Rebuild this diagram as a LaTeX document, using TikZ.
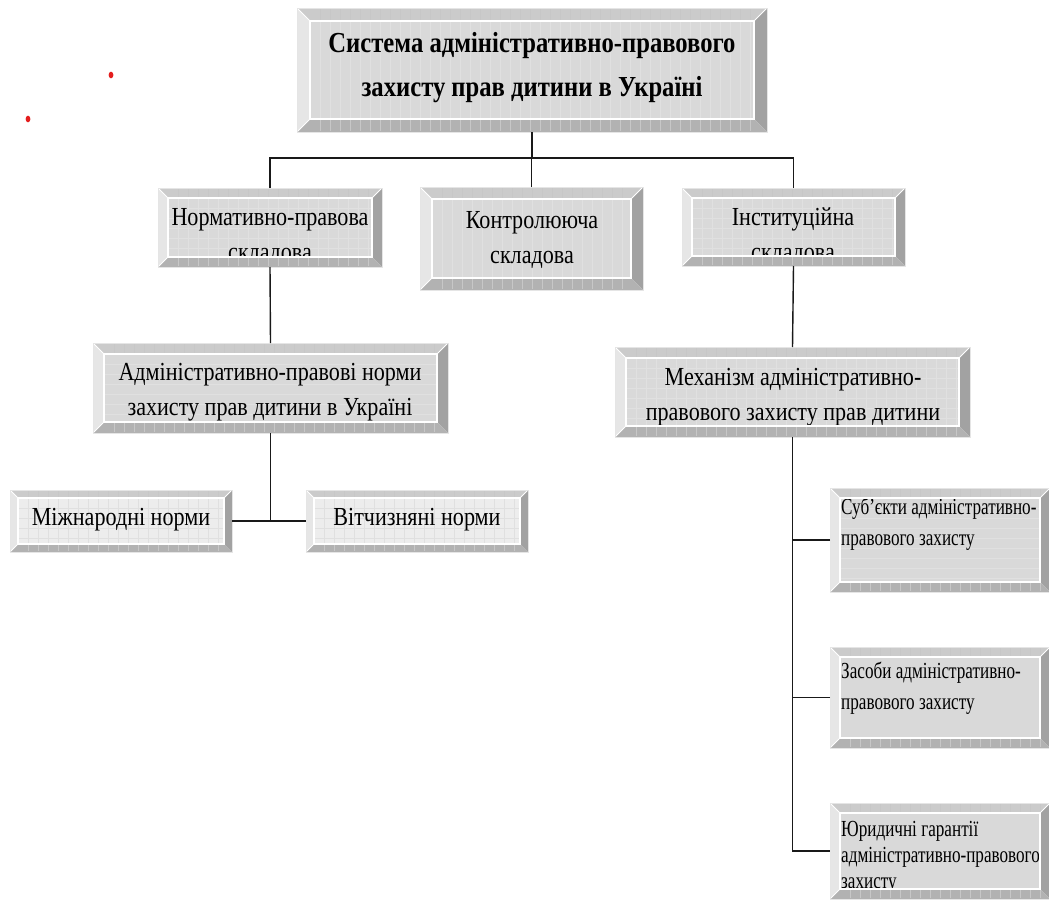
\documentclass[tikz,border=0pt]{standalone}
\usepackage{fontspec}
\setmainfont{Liberation Serif}[FakeStretch=0.85]
\newfontfamily\narrowserif{Liberation Serif}[FakeStretch=0.745]
\definecolor{face}{HTML}{D9D9D9}
\definecolor{facelight}{HTML}{EDEDED}
\definecolor{bevtop}{HTML}{CBCBCB}
\definecolor{bevleft}{HTML}{E6E6E6}
\definecolor{bevright}{HTML}{A2A2A2}
\definecolor{bevbot}{HTML}{B2B2B2}
\definecolor{dotred}{HTML}{E41E1E}
\tikzset{
  boxshape/.style={rectangle, inner sep=0pt, outer sep=0pt},
  link/.style={draw=black!90, line width=1.4pt},
  facegrid/.style={draw=black!12, line width=0.5pt},
  bevtick/.style={draw=black!22, line width=0.5pt},
  hilite/.style={draw=white, line width=1.2pt},
  toptext/.style={font={\fontsize{29}{44}\selectfont\bfseries}, align=center, inner sep=0pt},
  midtext/.style={font={\fontsize{26}{35}\selectfont}, align=center, inner sep=0pt},
  sidetext/.style={font={\narrowserif\fontsize{23}{31}\selectfont}, align=left, inner sep=0pt, anchor=north west},
  sidetextb/.style={font={\narrowserif\fontsize{23}{26}\selectfont}, align=left, inner sep=0pt, anchor=north west},
}
% face patterns (use \ixa,\iya,\ixb,\iyb = inner face corners)
\newcommand{\fgV}{\pgfmathsetmacro\fga{\ixa+10}\pgfmathsetmacro\fgb{\ixa+20}%
  \foreach \gx in {\fga,\fgb,...,\ixb}{\draw[facegrid] (\gx,\iya) -- (\gx,\iyb);}}
\newcommand{\fgH}{\pgfmathsetmacro\fga{\iya+10}\pgfmathsetmacro\fgb{\iya+20}%
  \foreach \gy in {\fga,\fgb,...,\iyb}{\draw[facegrid] (\ixa,\gy) -- (\ixb,\gy);}}
\newcommand{\fgG}{\fgV\fgH}
\newcommand{\fgN}{}
% #1 name, #2 x1, #3 y1, #4 x2, #5 y2, #6 bevel, #7 face colour, #8 pattern, #9 text code
\newcommand{\bevbox}[9]{%
  \pgfmathsetmacro\bvw{#4-#2}%
  \pgfmathsetmacro\bvh{#5-#3}%
  \pgfmathsetmacro\bvcx{(#2+#4)/2}%
  \pgfmathsetmacro\bvcy{(#3+#5)/2}%
  \pgfmathsetmacro\ixa{#2+#6}\pgfmathsetmacro\ixb{#4-#6}%
  \pgfmathsetmacro\iya{#3+#6}\pgfmathsetmacro\iyb{#5-#6}%
  \node[boxshape, minimum width=\bvw pt, minimum height=\bvh pt] (#1) at (\bvcx,\bvcy) {};
  \fill[#7] (\ixa,\iya) rectangle (\ixb,\iyb);
  #8
  #9
  \fill[bevleft] (#2,#3) -- (\ixa,\iya) -- (\ixa,\iyb) -- (#2,#5) -- cycle;
  \fill[bevtop] (#2,#3) -- (#4,#3) -- (\ixb,\iya) -- (\ixa,\iya) -- cycle;
  \fill[bevright] (#4,#3) -- (#4,#5) -- (\ixb,\iyb) -- (\ixb,\iya) -- cycle;
  \fill[bevbot] (#2,#5) -- (#4,#5) -- (\ixb,\iyb) -- (\ixa,\iyb) -- cycle;
  \pgfmathsetmacro\fga{\ixa+10}\pgfmathsetmacro\fgb{\ixa+20}%
  \foreach \gx in {\fga,\fgb,...,\ixb}{\draw[bevtick] (\gx,#3+1) -- (\gx,\iya-1) (\gx,\iyb+1) -- (\gx,#5-1);}
  \draw[hilite] (\ixa,\iya) rectangle (\ixb,\iyb);
  \draw[draw=white, line width=0.8pt] (#2,#3) -- (\ixa,\iya) (#2,#5) -- (\ixa,\iyb) (#4,#3) -- (\ixb,\iya);
  \draw[draw=black!10, line width=0.6pt] (#2,#3) rectangle (#4,#5);
}
\begin{document}
\begin{tikzpicture}[x=1pt, y=-1pt]
\useasboundingbox (0,0) rectangle (1049,902);
\fill[white] (0,0) rectangle (1049,902);

% red dots
\fill[dotred] (111,75) ellipse [x radius=2.4, y radius=3.3];
\fill[dotred] (28,119) ellipse [x radius=2.4, y radius=3.3];

\bevbox{top}{297}{8}{767}{132}{13}{face}{\fgV}{%
  \node[toptext] (top-t) at (532,68) {Система адміністративно-правового\\захисту прав дитини в Україні};}
\bevbox{norm}{158}{188}{382}{267}{10}{face}{\fgG}{%
  \node[midtext] (norm-t) at (270,237) {Нормативно-правова\\складова};}
\bevbox{kontr}{420}{187}{643}{290}{12}{face}{\fgV}{%
  \node[midtext] (kontr-t) at (532,240) {Контролююча\\складова};}
\bevbox{inst}{682}{188}{905}{266}{10}{face}{\fgG}{%
  \node[midtext] (inst-t) at (793,237) {Інституційна\\складова};}
\bevbox{adm}{93}{343}{448}{433}{11}{face}{\fgH}{%
  \node[midtext] (adm-t) at (270,392) {Адміністративно-правові норми\\захисту прав дитини в Україні};}
\bevbox{mech}{615}{347}{970}{437}{11}{face}{\fgG}{%
  \node[midtext] (mech-t) at (793,397) {Механізм адміністративно-\\правового захисту прав дитини};}
\bevbox{mizh}{10}{490}{232}{552}{8}{facelight}{\fgG}{%
  \node[midtext] (mizh-t) at (121,520) {Міжнародні норми};}
\bevbox{vitch}{306}{490}{528}{552}{8}{facelight}{\fgG}{%
  \node[midtext] (vitch-t) at (417,520) {Вітчизняні норми};}
\bevbox{sub}{830}{488}{1050}{592}{10}{face}{\fgH}{%
  \node[sidetext] (sub-t) at (841,498) {Суб’єкти адміністративно-\\правового захисту};}
\bevbox{zas}{830}{647}{1050}{748}{10}{face}{\fgN}{%
  \node[sidetext] (zas-t) at (841,662) {Засоби адміністративно-\\правового захисту};}
\bevbox{jur}{830}{803}{1050}{899}{10}{face}{\fgN}{%
  \node[sidetextb] (jur-t) at (841,821) {Юридичні гарантії\\адміністративно-правового\\захисту};}

% connectors
\coordinate (bus) at (0,158);
\draw[link] (top.south) -- (top.south |- bus);
\draw[link] (norm.north) -- (norm.north |- bus) -- (inst.north |- bus) -- (inst.north);
\draw[link] (kontr.north) -- (kontr.north |- bus);
\draw[link] (norm.south) -- (adm.north);
\draw[link] (adm.south) -- (adm.south |- mizh.east);
\draw[link] (mizh.east) -- (vitch.west);
\draw[link] (inst.south) -- (mech.north);
\draw[link] (mech.south) -- (mech.south |- jur.west) -- (jur.west);
\draw[link] (sub.west) -- (sub.west -| mech.south);
\draw[link] (zas.west) -- (zas.west -| mech.south);
\end{tikzpicture}
\end{document}
